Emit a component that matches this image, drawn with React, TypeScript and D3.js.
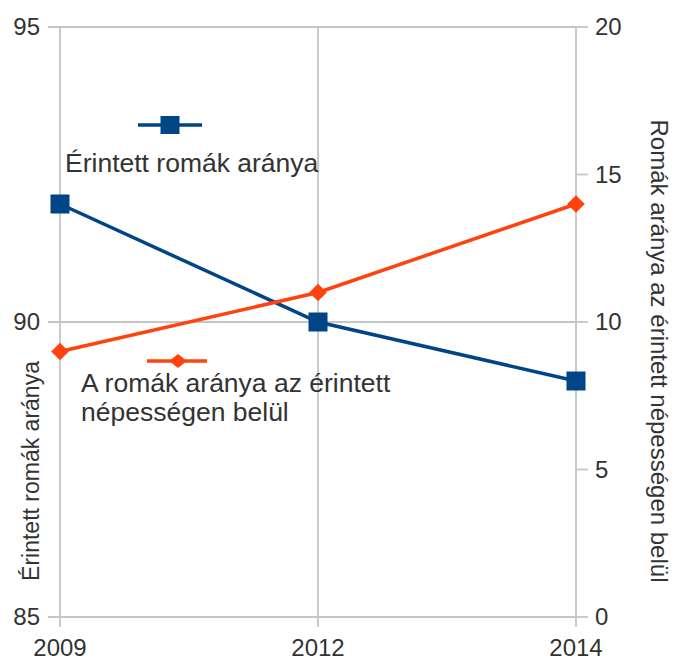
import React from "react";
import * as d3 from "d3";

const years = ["2009", "2012", "2014"];
const affectedShare = [92, 90, 89];
const romaShareInAffected = [9, 11, 14];
const leftTicks = [85, 90, 95];
const rightTicks = [0, 5, 10, 15, 20];

const W = 678, H = 662;
const L = 60, R = 576, T = 27, B = 617;
const BLUE = "#004586";
const ORANGE = "#ff420e";
const GRID = "#c6c6c6";
const FONT = "'Liberation Sans', Arial, sans-serif";
const TXT = "#333";

export default function App() {
  const x = d3.scalePoint<string>().domain(years).range([L, R]);
  const yL = d3.scaleLinear().domain([85, 95]).range([B, T]);
  const yR = d3.scaleLinear().domain([0, 20]).range([B, T]);

  const lineL = d3.line<number>().x((_, i) => x(years[i])!).y((d) => yL(d));
  const lineR = d3.line<number>().x((_, i) => x(years[i])!).y((d) => yR(d));

  const sq = 19;
  const dia = d3.symbol().type(d3.symbolDiamond2).size(200)();

  return (
    <svg width={W} height={H} style={{ position: "absolute", left: 0, top: 0, background: "#fff" }} fontFamily={FONT}>
      {/* gridlines */}
      {leftTicks.map((t) => (
        <line key={"h" + t} x1={L - 12} x2={R} y1={yL(t)} y2={yL(t)} stroke={GRID} strokeWidth={1.8} />
      ))}
      {years.map((yr) => (
        <line key={"v" + yr} x1={x(yr)} x2={x(yr)} y1={T} y2={B + 10} stroke={GRID} strokeWidth={1.8} />
      ))}
      {/* right axis ticks */}
      {rightTicks.map((t) => (
        <line key={"rt" + t} x1={R} x2={R + 12} y1={yR(t)} y2={yR(t)} stroke={GRID} strokeWidth={1.8} />
      ))}
      {/* tick labels */}
      {leftTicks.map((t) => (
        <text key={"lt" + t} x={40} y={yL(t)} dy="0.35em" textAnchor="end" fontSize={24} fill={TXT}>{t}</text>
      ))}
      {rightTicks.map((t) => (
        <text key={"rl" + t} x={595} y={yR(t)} dy="0.35em" textAnchor="start" fontSize={24} fill={TXT}>{t}</text>
      ))}
      {years.map((yr) => (
        <text key={"xl" + yr} x={x(yr)} y={656} textAnchor="middle" fontSize={24} fill={TXT}>{yr}</text>
      ))}
      {/* axis titles */}
      <text transform={`translate(39,471) rotate(-90)`} textAnchor="middle" fontSize={23} fill={TXT}>Érintett romák aránya</text>
      <text transform={`translate(651,351) rotate(90)`} textAnchor="middle" fontSize={24} fill={TXT}>Romák aránya az érintett népességen belül</text>

      {/* series lines */}
      <path d={lineL(affectedShare)!} fill="none" stroke={BLUE} strokeWidth={3.5} />
      <path d={lineR(romaShareInAffected)!} fill="none" stroke={ORANGE} strokeWidth={3.5} />
      {affectedShare.map((v, i) => (
        <rect key={"b" + i} x={x(years[i])! - sq / 2} y={yL(v) - sq / 2} width={sq} height={sq} fill={BLUE} />
      ))}
      {romaShareInAffected.map((v, i) => (
        <path key={"o" + i} d={dia!} transform={`translate(${x(years[i])},${yR(v)})`} fill={ORANGE} />
      ))}

      {/* legend */}
      <line x1={138} x2={202} y1={125} y2={125} stroke={BLUE} strokeWidth={3.5} />
      <rect x={170 - 9.5} y={125 - 9} width={19} height={18} fill={BLUE} />
      <text x={65} y={172} fontSize={26.5} fill={TXT}>Érintett romák aránya</text>

      <line x1={147} x2={207} y1={361} y2={361} stroke={ORANGE} strokeWidth={3.5} />
      <path d={dia!} transform="translate(178,361) scale(1,0.8)" fill={ORANGE} />
      <text x={81} y={392} fontSize={26.5} fill={TXT}>A romák aránya az érintett</text>
      <text x={81} y={421} fontSize={26.5} fill={TXT}>népességen belül</text>
    </svg>
  );
}
